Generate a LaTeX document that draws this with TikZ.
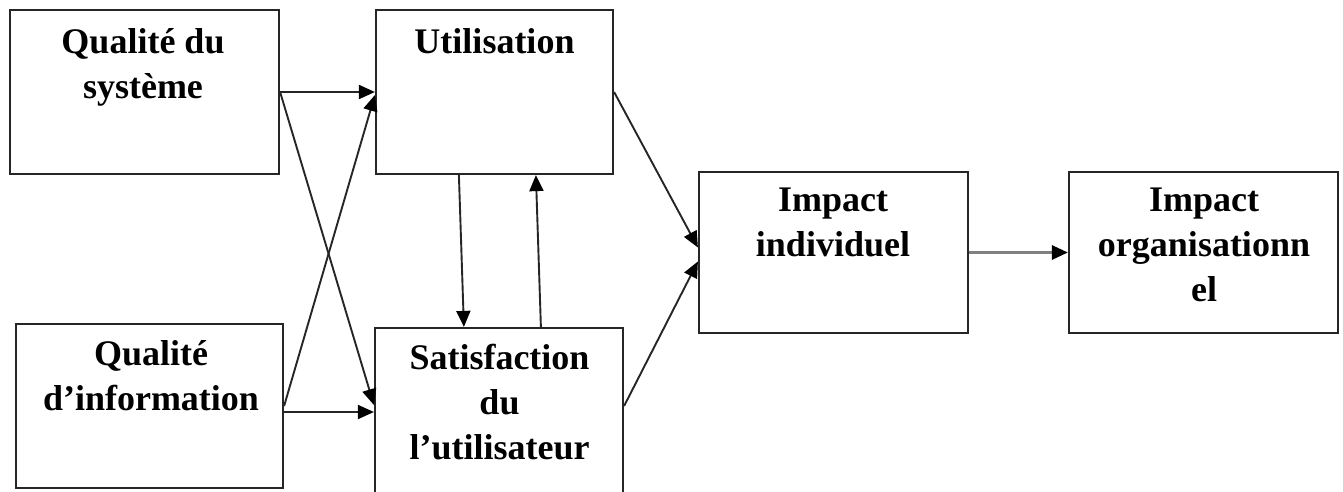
\documentclass[tikz,border=0pt]{standalone}
\usepackage{fontspec}
\setmainfont{Liberation Serif}
\usetikzlibrary{arrows.meta,calc}
\begin{document}
\begin{tikzpicture}[x=1pt,y=-1pt,
  box/.style={draw=black!85,line width=2.2pt,rectangle,inner sep=0pt},
  label/.style={font=\fontsize{36}{45}\selectfont\bfseries,align=center,inner sep=0pt,anchor=base},
  link/.style={line width=1.9pt,draw=black!85,-{Triangle[length=16pt,width=14pt,color=black]}},
  grey link/.style={line width=3pt,draw=black!50,-{Triangle[length=16pt,width=14pt,color=black]}}]
\useasboundingbox[fill=white] (0,0) rectangle (1343,491);

% boxes
\node[box,minimum width=269pt,minimum height=164pt] (sys)  at (144.5,92) {};
\node[box,minimum width=267pt,minimum height=164pt] (info) at (149.5,406) {};
\node[box,minimum width=237pt,minimum height=164pt] (use)  at (494.5,92) {};
\node[box,minimum width=248pt,minimum height=172pt] (sat)  at (499,414) {};
\node[box,minimum width=269pt,minimum height=161pt] (ind)  at (833.5,252.5) {};
\node[box,minimum width=269pt,minimum height=161pt] (org)  at (1203.5,252.5) {};

% box texts (anchored on the baseline of their last line)
\node[label] (tsys)  at ($(sys.north)+(-1.5,90)$)  {Qualité du\\système};
\node[label] (tinfo) at ($(info.north)+(1.5,88)$)  {Qualité\\d’information};
\node[label] (tuse)  at ($(use.north)+(0,45)$)     {Utilisation};
\node[label] (tsat)  at ($(sat.north)+(0.5,133)$)  {Satisfaction\\du\\l’utilisateur};
\node[label] (tind)  at ($(ind.north)+(-0.5,86)$)  {Impact\\individuel};
\node[label] (torg)  at ($(org.north)+(0.5,131)$)  {Impact\\organisationn\\el};

% connectors
\draw[link] (sys.east) -- (use.west);
\draw[link] (sys.east) -- ($(sat.west)+(0,-9)$);
\draw[link] (info.east) -- ($(use.west)+(0,3)$);
\draw[link] ($(info.east)+(0,6)$) -- ($(sat.west)+(0,-2)$);
\draw[link] ($(use.south west)+(84,0)$) -- ($(sat.north west)+(90,0)$);
\draw[link] ($(sat.north west)+(167,0)$) -- ($(use.south west)+(161,0)$);
\draw[link] (use.east) -- ($(ind.west)+(0,-5)$);
\draw[link] ($(sat.east)+(0,-8)$) -- ($(ind.west)+(0,9)$);
\draw[grey link] (ind.east) -- (org.west);
\end{tikzpicture}
\end{document}
